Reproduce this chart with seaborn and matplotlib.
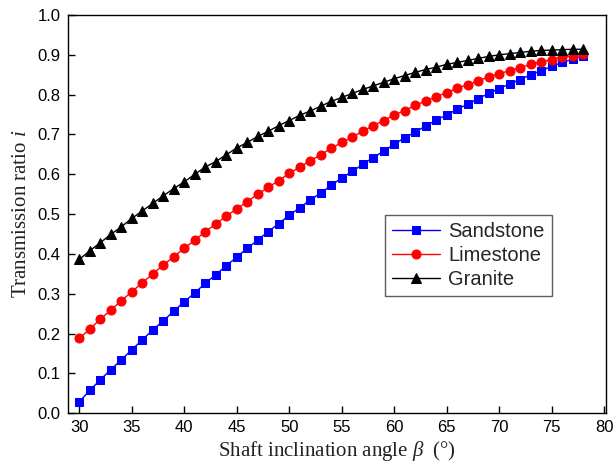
import numpy as np
import pandas as pd
import matplotlib
matplotlib.use("Agg")
import matplotlib.pyplot as plt
import seaborn as sns

angle = list(range(30, 79))
sandstone = [0.029, 0.057, 0.084, 0.109, 0.134, 0.159, 0.184, 0.209, 0.232, 0.256,
             0.280, 0.302, 0.326, 0.348, 0.370, 0.392, 0.414, 0.435, 0.456, 0.476,
             0.497, 0.516, 0.535, 0.553, 0.572, 0.591, 0.607, 0.625, 0.642, 0.658,
             0.675, 0.692, 0.706, 0.721, 0.736, 0.749, 0.763, 0.776, 0.790, 0.803,
             0.815, 0.827, 0.838, 0.850, 0.860, 0.871, 0.881, 0.889, 0.897]
limestone = [0.188, 0.211, 0.236, 0.259, 0.282, 0.305, 0.327, 0.350, 0.372, 0.393,
             0.414, 0.434, 0.456, 0.475, 0.495, 0.513, 0.531, 0.550, 0.567, 0.584,
             0.602, 0.618, 0.634, 0.649, 0.665, 0.680, 0.693, 0.708, 0.722, 0.735,
             0.749, 0.760, 0.773, 0.784, 0.795, 0.805, 0.816, 0.825, 0.835, 0.844,
             0.853, 0.860, 0.868, 0.876, 0.882, 0.888, 0.894, 0.898, 0.902]
granite = [0.386, 0.408, 0.428, 0.449, 0.468, 0.489, 0.508, 0.527, 0.546, 0.564,
           0.581, 0.600, 0.618, 0.632, 0.649, 0.666, 0.680, 0.695, 0.708, 0.722,
           0.735, 0.748, 0.759, 0.771, 0.783, 0.793, 0.803, 0.813, 0.822, 0.831,
           0.840, 0.848, 0.856, 0.863, 0.869, 0.876, 0.881, 0.886, 0.891, 0.896,
           0.900, 0.903, 0.906, 0.909, 0.911, 0.912, 0.913, 0.914, 0.914]
series_names = ["Sandstone", "Limestone", "Granite"]
series_colors = ["#0000ff", "#ff0000", "#000000"]
series_markers = ["s", "o", "^"]
series_sizes = [5.5, 6.5, 7.5]
xticks = list(range(30, 81, 5))
yticks = [round(0.1 * k, 1) for k in range(11)]

sns.set_theme(style="ticks")
plt.rcParams['font.family'] = ['Liberation Sans', 'DejaVu Sans']
plt.rcParams['mathtext.fontset'] = 'custom'
plt.rcParams['mathtext.rm'] = 'Liberation Serif'
plt.rcParams['mathtext.it'] = 'Liberation Serif:italic'

fig = plt.figure(figsize=(6.16, 4.70), dpi=100)
ax = fig.add_axes([0.110, 0.121, 0.874, 0.847])

for name, vals, c, m, ms in zip(series_names, [sandstone, limestone, granite],
                                series_colors, series_markers, series_sizes):
    sns.lineplot(x=angle, y=vals, ax=ax, color=c, marker=m, markersize=ms,
                 markeredgecolor=c, linewidth=1.0, label=name)

ax.set_xlim(28.9, 80.2)
ax.set_ylim(0, 1.0)
ax.set_xticks(xticks)
ax.set_yticks(yticks)
ax.set_xticklabels([str(t) for t in xticks])
ax.set_yticklabels([f"{t:.1f}" for t in yticks])
ax.tick_params(direction='in', length=5, width=1, labelsize=12, colors='black',
               top=False, right=False, pad=5)
for s in ax.spines.values():
    s.set_visible(True)
    s.set_color('black')
    s.set_linewidth(1.0)

ax.set_xlabel(r"Shaft inclination angle $\beta\ \ $(°)", fontsize=15,
              family='Liberation Serif', color='#222222', labelpad=3)
ax.set_ylabel(r"Transmission ratio $i$", fontsize=15,
              family='Liberation Serif', color='#222222', labelpad=5)

leg = ax.legend(loc='upper left', bbox_to_anchor=(0.589, 0.497), fontsize=14.5,
                frameon=True, fancybox=False, shadow=False, handlelength=2.4,
                borderpad=0.35, labelspacing=0.25, handletextpad=0.4,
                borderaxespad=0)
leg.get_frame().set_edgecolor('#333333')
leg.get_frame().set_linewidth(1.0)

fig.savefig("out.png", dpi=100)
